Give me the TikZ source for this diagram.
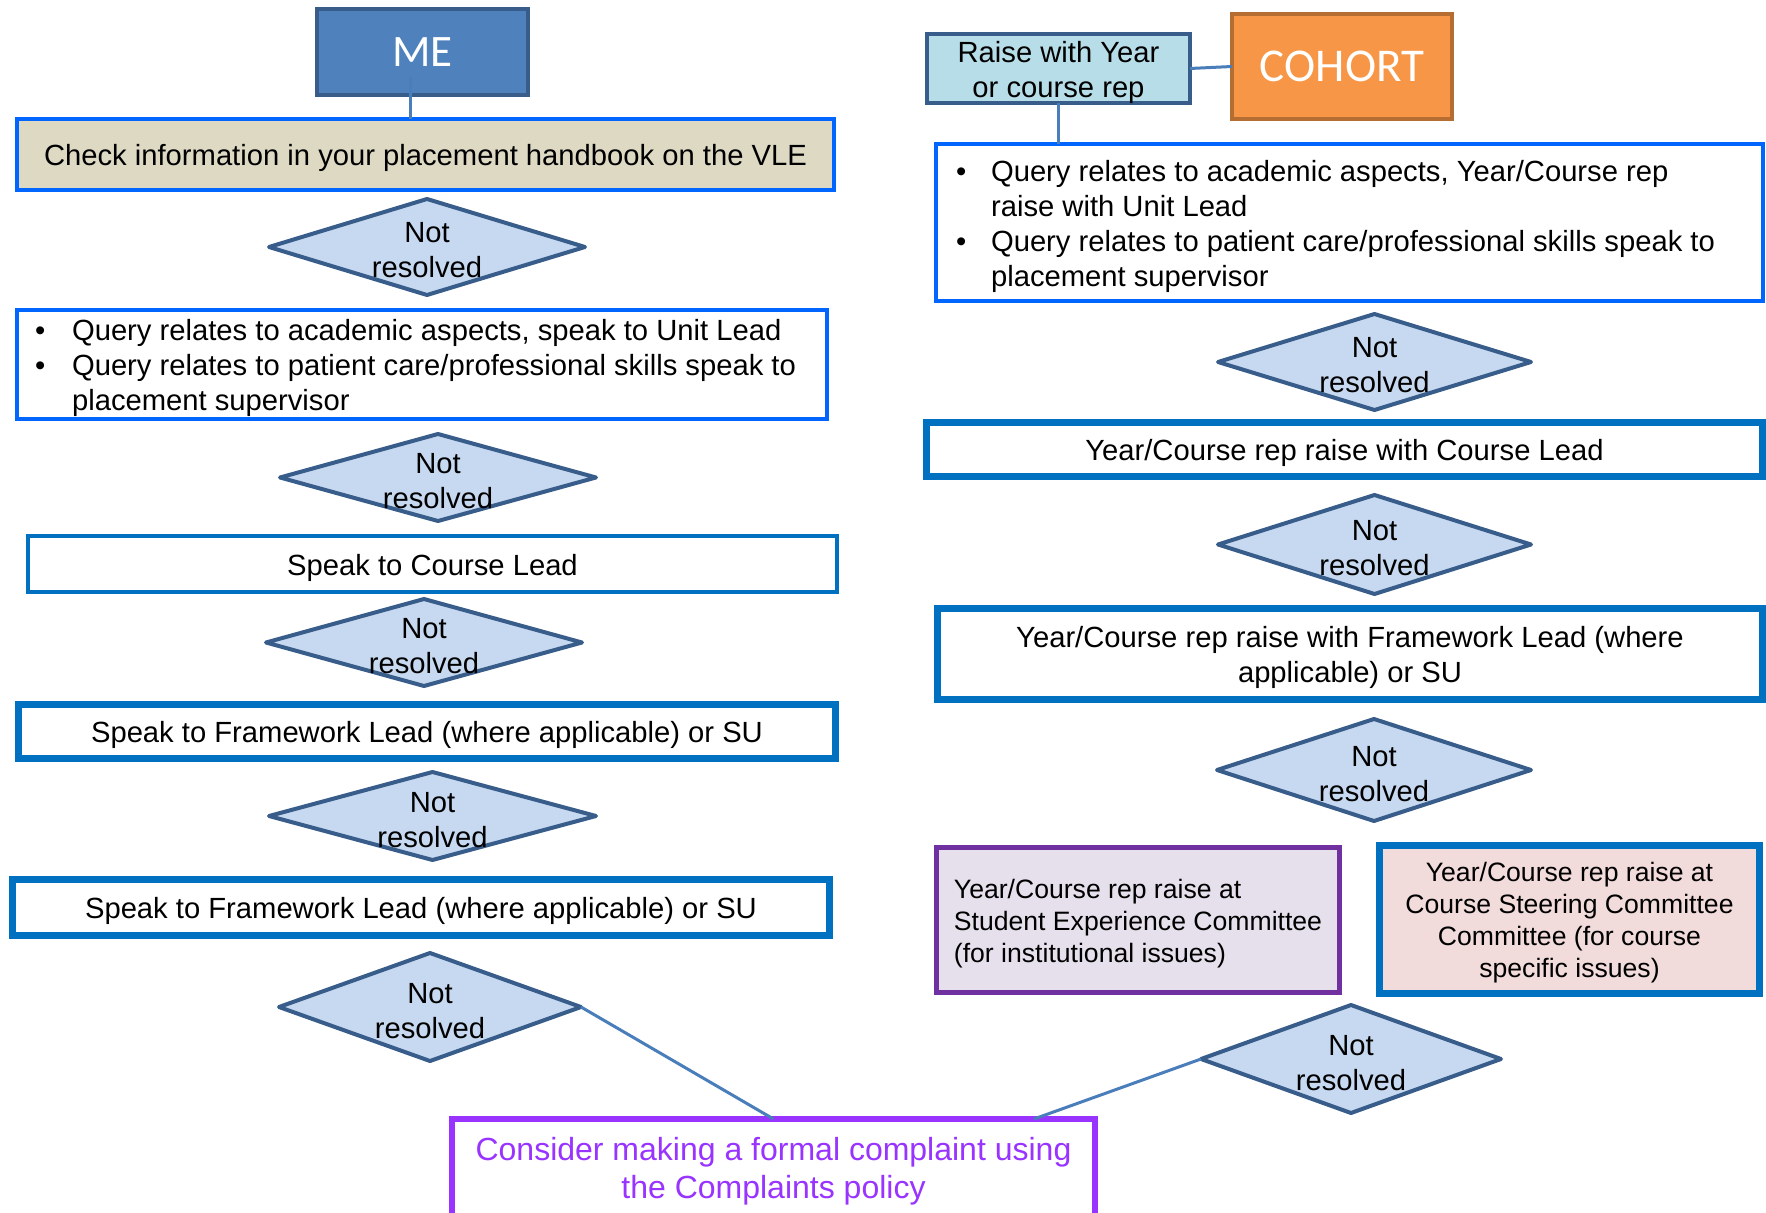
\documentclass[tikz,border=0pt]{standalone}
\usepackage{fontspec}
\setmainfont{Liberation Sans}
\newfontfamily\calibri{Carlito}
\usetikzlibrary{shapes.geometric,calc}
\definecolor{meFill}{HTML}{4F81BD}
\definecolor{navy}{HTML}{385D8A}
\definecolor{brightBlue}{HTML}{0066FF}
\definecolor{midBlue}{HTML}{0070C0}
\definecolor{beige}{HTML}{DDD9C3}
\definecolor{diaFill}{HTML}{C6D9F1}
\definecolor{raiseFill}{HTML}{B7DEE8}
\definecolor{cohortFill}{HTML}{F79646}
\definecolor{cohortLine}{HTML}{B66D31}
\definecolor{lilac}{HTML}{E6E0EC}
\definecolor{plum}{HTML}{7030A0}
\definecolor{rose}{HTML}{F2DCDB}
\definecolor{violet}{HTML}{9933FF}
\definecolor{linkc}{HTML}{4A7EBB}
\newcommand\leftquery{\begin{tabular}{@{}l@{}l@{\hspace{6.5pt}}}
   \makebox[18.5pt][l]{\textbullet} & Query relates to academic aspects, speak to Unit Lead\\
   \makebox[18.5pt][l]{\textbullet} & Query relates to patient care/professional skills speak to\\
   & placement supervisor
   \end{tabular}}
\newcommand\rightquery{\begin{tabular}{@{}l@{}l@{\hspace{14pt}}}
   \makebox[17.5pt][l]{\textbullet} & Query relates to academic aspects, Year/Course rep\\
   & raise with Unit Lead\\
   \makebox[17.5pt][l]{\textbullet} & Query relates to patient care/professional skills speak to\\
   & placement supervisor
   \end{tabular}}
\begin{document}
\begin{tikzpicture}[x=0.5pt,y=-0.5pt,
 every node/.style={inner sep=0pt, outer sep=0pt},
 txt/.style={font=\fontsize{14.6}{17.5}\selectfont, align=center},
 smalltxt/.style={font=\fontsize{13.3}{16}\selectfont},
 tl/.style={label={[txt,yshift=-1.8pt]center:{#1}}},
 tlsmall/.style={label={[txt,smalltxt,yshift=-1.6pt]center:{#1}}},
 bluebox/.style={rectangle, draw=brightBlue, line width=2.2pt, fill=white},
 medbox/.style={rectangle, draw=midBlue, line width=2pt, fill=white},
 thickbox/.style={rectangle, draw=midBlue, line width=3.5pt, fill=white},
 dia/.style={diamond, draw=navy, fill=diaFill, line width=2pt, line join=round, tl={Not\\resolved}},
 conn/.style={draw=linkc, line width=1.5pt},
 sz/.style 2 args={minimum width=#1, minimum height=#2}
]
\fill[white] (0,0) rectangle (1766,1213);
\useasboundingbox (0,0) rectangle (1766,1213);
\clip (0,0) rectangle (1766,1213);

% ---------- left column ----------
\node[rectangle, sz={105.5pt}{43pt}, fill=meFill, draw=navy, line width=2pt, text=white,
      font=\calibri\fontsize{22.5}{27}\selectfont] (me) at (422.5,52) {ME};
\node[bluebox, sz={408.5pt}{35.5pt}, fill=beige,
      tl={Check information in your placement handbook on the VLE}] (check) at (425.5,154.5) {};
\node[dia, sz={158pt}{48pt}] (d1) at (427,247) {};
\node[bluebox, sz={405pt}{54.5pt}, label={[txt,yshift=-2pt]center:{\leftquery}}] (q1) at (422,364.5) {};
\node[dia, sz={158pt}{43.5pt}] (d2) at (438,477.5) {};
\node[medbox, sz={404.5pt}{28pt}, tl={Speak to Course Lead}] (course) at (432.5,564) {};
\node[dia, sz={158pt}{43.5pt}] (d3) at (424,642.5) {};
\node[thickbox, sz={408.5pt}{27pt}, tl={Speak to Framework Lead (where applicable) or SU}] (fw1) at (427,731.5) {};
\node[dia, sz={163.5pt}{44pt}] (d4) at (432.5,816) {};
\node[thickbox, sz={408.5pt}{28pt}, tl={Speak to Framework Lead (where applicable) or SU}] (fw2) at (421,907.5) {};
\node[dia, sz={151pt}{54pt}] (d5) at (430,1007) {};
\node[rectangle, sz={321.5pt}{49pt}, draw=violet, line width=3pt, fill=white,
      label={[text=violet, font=\fontsize{16}{19}\selectfont, align=center, yshift=-1.6pt]center:{Consider making a formal complaint using\\the Complaints policy}}]
      (cons) at (773.5,1168) {};

% ---------- right column ----------
\node[rectangle, sz={131.5pt}{34.5pt}, fill=raiseFill, draw=navy, line width=2pt,
      tl={Raise with Year\\or course rep}] (raise) at (1058.5,68.5) {};
\node[rectangle, sz={110pt}{52.5pt}, fill=cohortFill, draw=cohortLine, line width=2pt, text=white,
      font=\calibri\fontsize{23.5}{28}\selectfont] (cohort) at (1342,66.5) {COHORT};
\node[bluebox, sz={413.5pt}{78.5pt}, label={[txt,yshift=-2.2pt]center:{\rightquery}}] (cq) at (1349.5,222.5) {};
\node[dia, sz={156.5pt}{48pt}] (r1) at (1374.5,362) {};
\node[thickbox, sz={418pt}{27pt}, tl={Year/Course rep raise with Course Lead}] (clR) at (1344.5,449.5) {};
\node[dia, sz={156.5pt}{49.5pt}] (r2) at (1374.5,544.5) {};
\node[thickbox, sz={412.5pt}{45.5pt},
      tl={Year/Course rep raise with Framework Lead (where\\applicable) or SU}] (fwR) at (1350,654) {};
\node[dia, sz={157pt}{51pt}] (r3) at (1374,770) {};
\node[rectangle, sz={201.5pt}{72.5pt}, fill=lilac, draw=plum, line width=2.5pt,
      label={[smalltxt, align=left, yshift=-1.6pt]center:{Year/Course rep raise at\\Student Experience Committee\\(for institutional issues)}}]
      (sec) at (1138,920) {};
\node[rectangle, sz={190pt}{74pt}, fill=rose, draw=midBlue, line width=3.5pt,
      tlsmall={Year/Course rep raise at\\Course Steering Committee\\Committee (for course\\specific issues)}]
      (csc) at (1569.5,919.5) {};
\node[dia, sz={150pt}{54pt}] (r4) at (1351,1059) {};

% ---------- connectors ----------
\draw[conn] ([xshift=-6pt,yshift=9pt]me.south) -- ([xshift=-6pt]me.south |- check.north);
\draw[conn] (raise.east) -- (cohort.west);
\draw[conn] (raise.south) -- (raise.south |- cq.north);
\draw[conn] (d5.east) -- (cons.north);
\draw[conn] (r4.west) -- ($(cons.north west)!0.905!(cons.north east)$);
\end{tikzpicture}
\end{document}
